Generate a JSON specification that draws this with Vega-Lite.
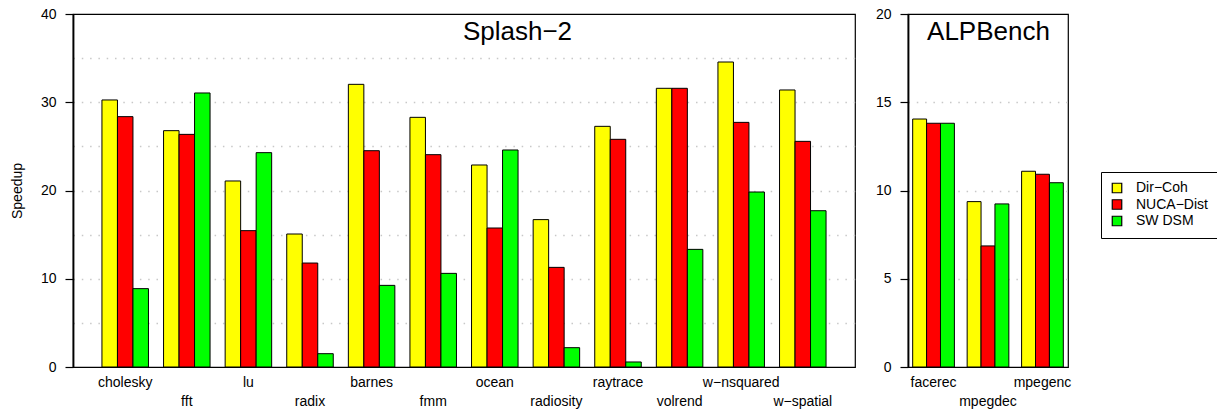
{
  "$schema": "https://vega.github.io/schema/vega-lite/v6.json",
  "padding": {"left": 9, "top": 6, "right": 0, "bottom": 0},
  "background": "white",
  "spacing": 18,
  "config": {
    "font": "Liberation Sans",
    "view": {"stroke": "black", "strokeWidth": 1.2},
    "axis": {
      "labelFont": "Liberation Sans",
      "titleFont": "Liberation Sans",
      "labelColor": "black",
      "titleColor": "black",
      "labelFontSize": 14,
      "titleFontSize": 14,
      "titleFontWeight": "normal"
    }
  },
  "datasets": {
    "splash": [
      {"bench": "cholesky", "config": "Dir−Coh", "speedup": 30.26},
      {"bench": "cholesky", "config": "NUCA−Dist", "speedup": 28.37},
      {"bench": "cholesky", "config": "SW DSM", "speedup": 8.88},
      {"bench": "fft", "config": "Dir−Coh", "speedup": 26.78},
      {"bench": "fft", "config": "NUCA−Dist", "speedup": 26.36},
      {"bench": "fft", "config": "SW DSM", "speedup": 31.05},
      {"bench": "lu", "config": "Dir−Coh", "speedup": 21.08},
      {"bench": "lu", "config": "NUCA−Dist", "speedup": 15.45},
      {"bench": "lu", "config": "SW DSM", "speedup": 24.29},
      {"bench": "radix", "config": "Dir−Coh", "speedup": 15.07},
      {"bench": "radix", "config": "NUCA−Dist", "speedup": 11.78},
      {"bench": "radix", "config": "SW DSM", "speedup": 1.51},
      {"bench": "barnes", "config": "Dir−Coh", "speedup": 32.03},
      {"bench": "barnes", "config": "NUCA−Dist", "speedup": 24.51},
      {"bench": "barnes", "config": "SW DSM", "speedup": 9.25},
      {"bench": "fmm", "config": "Dir−Coh", "speedup": 28.29},
      {"bench": "fmm", "config": "NUCA−Dist", "speedup": 24.06},
      {"bench": "fmm", "config": "SW DSM", "speedup": 10.61},
      {"bench": "ocean", "config": "Dir−Coh", "speedup": 22.89},
      {"bench": "ocean", "config": "NUCA−Dist", "speedup": 15.75},
      {"bench": "ocean", "config": "SW DSM", "speedup": 24.59},
      {"bench": "radiosity", "config": "Dir−Coh", "speedup": 16.7},
      {"bench": "radiosity", "config": "NUCA−Dist", "speedup": 11.29},
      {"bench": "radiosity", "config": "SW DSM", "speedup": 2.19},
      {"bench": "raytrace", "config": "Dir−Coh", "speedup": 27.27},
      {"bench": "raytrace", "config": "NUCA−Dist", "speedup": 25.8},
      {"bench": "raytrace", "config": "SW DSM", "speedup": 0.57},
      {"bench": "volrend", "config": "Dir−Coh", "speedup": 31.58},
      {"bench": "volrend", "config": "NUCA−Dist", "speedup": 31.58},
      {"bench": "volrend", "config": "SW DSM", "speedup": 13.33},
      {"bench": "w−nsquared", "config": "Dir−Coh", "speedup": 34.56},
      {"bench": "w−nsquared", "config": "NUCA−Dist", "speedup": 27.72},
      {"bench": "w−nsquared", "config": "SW DSM", "speedup": 19.83},
      {"bench": "w−spatial", "config": "Dir−Coh", "speedup": 31.39},
      {"bench": "w−spatial", "config": "NUCA−Dist", "speedup": 25.57},
      {"bench": "w−spatial", "config": "SW DSM", "speedup": 17.71}
    ],
    "alp": [
      {"bench": "facerec", "config": "Dir−Coh", "speedup": 14.05},
      {"bench": "facerec", "config": "NUCA−Dist", "speedup": 13.81},
      {"bench": "facerec", "config": "SW DSM", "speedup": 13.81},
      {"bench": "mpegdec", "config": "Dir−Coh", "speedup": 9.37},
      {"bench": "mpegdec", "config": "NUCA−Dist", "speedup": 6.86},
      {"bench": "mpegdec", "config": "SW DSM", "speedup": 9.24},
      {"bench": "mpegenc", "config": "Dir−Coh", "speedup": 11.09},
      {"bench": "mpegenc", "config": "NUCA−Dist", "speedup": 10.92},
      {"bench": "mpegenc", "config": "SW DSM", "speedup": 10.44}
    ]
  },
  "hconcat": [
    {
      "width": 782,
      "height": 353,
      "data": {"name": "splash"},
      "mark": {"type": "bar", "stroke": "black", "strokeWidth": 1},
      "encoding": {
        "x": {
          "field": "bench", "type": "nominal", "sort": null,
          "scale": {"paddingInner": 0.245, "paddingOuter": 0.47},
          "axis": {
            "title": "Splash−2", "titleFontSize": 26, "titleX": 444, "titleY": -328,
            "titleBaseline": "alphabetic", "titleAlign": "center",
            "ticks": false, "domain": false, "labelAngle": 0,
            "labelPadding": 8, "labelLineHeight": 19, "labelBaseline": "top",
            "labelExpr": "indexof(['fft','radix','fmm','radiosity','volrend','w−spatial'], datum.value) >= 0 ? ['', datum.value] : datum.value"
          }
        },
        "xOffset": {"field": "config", "type": "nominal", "sort": ["Dir−Coh", "NUCA−Dist", "SW DSM"]},
        "y": {
          "field": "speedup", "type": "quantitative",
          "scale": {"domain": [0, 40], "nice": false},
          "axis": {
            "title": "Speedup", "titlePadding": 16,
            "values": [0, 5, 10, 15, 20, 25, 30, 35, 40],
            "labelExpr": "datum.value % 10 == 0 ? datum.label : ''",
            "tickOpacity": {"condition": {"test": "datum.value % 10 != 0", "value": 0}, "value": 1},
            "tickSize": 8, "tickColor": "black", "tickWidth": 1.2,
            "labelPadding": 9,
            "domainColor": "black", "domainWidth": 1.8,
            "grid": true, "gridColor": "#c8c8c8", "gridDash": [1.5, 6.8], "gridWidth": 1.3,
            "gridOpacity": {"condition": {"test": "datum.value == 0 || datum.value == 40", "value": 0}, "value": 1}
          }
        },
        "color": {
          "field": "config", "type": "nominal",
          "scale": {"domain": ["Dir−Coh", "NUCA−Dist", "SW DSM"], "range": ["#ffff00", "#ff0000", "#00ff00"]},
          "legend": {
            "title": null, "orient": "none", "legendX": 1028, "legendY": 158,
            "symbolType": "square", "symbolSize": 90, "symbolStrokeColor": "black", "symbolStrokeWidth": 1.2,
            "symbolOpacity": 1,
            "labelFont": "Liberation Sans", "labelFontSize": 14, "labelColor": "black", "labelOffset": 12,
            "strokeColor": "black", "padding": 9, "rowPadding": 0.5, "fillColor": "white"
          }
        }
      }
    },
    {
      "width": 160,
      "height": 353,
      "data": {"name": "alp"},
      "mark": {"type": "bar", "stroke": "black", "strokeWidth": 1},
      "encoding": {
        "x": {
          "field": "bench", "type": "nominal", "sort": null,
          "scale": {"paddingInner": 0.234, "paddingOuter": 0.086},
          "axis": {
            "title": "ALPBench", "titleFontSize": 26, "titleX": 80, "titleY": -328,
            "titleBaseline": "alphabetic", "titleAlign": "center",
            "ticks": false, "domain": false, "labelAngle": 0,
            "labelPadding": 8, "labelLineHeight": 19, "labelBaseline": "top",
            "labelExpr": "datum.value == 'mpegdec' ? ['', datum.value] : datum.value"
          }
        },
        "xOffset": {"field": "config", "type": "nominal", "sort": ["Dir−Coh", "NUCA−Dist", "SW DSM"]},
        "y": {
          "field": "speedup", "type": "quantitative",
          "scale": {"domain": [0, 20], "nice": false},
          "axis": {
            "title": null,
            "values": [0, 5, 10, 15, 20],
            "tickSize": 8, "tickColor": "black", "tickWidth": 1.2,
            "labelPadding": 9,
            "domainColor": "black", "domainWidth": 1.8,
            "grid": true, "gridColor": "#c8c8c8", "gridDash": [1.5, 6.8], "gridWidth": 1.3,
            "gridOpacity": {"condition": {"test": "datum.value == 0 || datum.value == 20", "value": 0}, "value": 1}
          }
        },
        "color": {
          "field": "config", "type": "nominal",
          "scale": {"domain": ["Dir−Coh", "NUCA−Dist", "SW DSM"], "range": ["#ffff00", "#ff0000", "#00ff00"]}
        }
      }
    }
  ],
  "resolve": {"scale": {"y": "independent", "x": "independent", "xOffset": "independent"}}
}
